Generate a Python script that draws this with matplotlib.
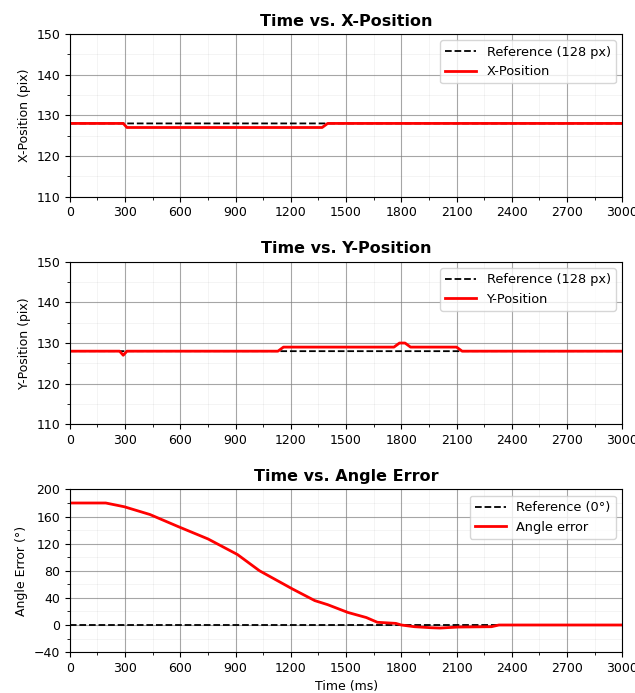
import matplotlib
matplotlib.use("Agg")
import matplotlib.pyplot as plt
from matplotlib.ticker import MultipleLocator, AutoMinorLocator

# breakpoints (time in ms)
x_time = [0, 290, 310, 1370, 1400, 3000]
x_pos = [128, 128, 127, 127, 128, 128]

y_time = [0, 270, 290, 310, 1130, 1160, 1760, 1790, 1820, 1850, 2100, 2130, 3000]
y_pos = [128, 128, 127, 128, 128, 129, 129, 130, 130, 129, 129, 128, 128]

a_time = [0, 195, 295, 435, 590, 750, 910, 1030, 1210, 1330, 1400, 1510, 1610,
          1670, 1770, 1800, 1870, 1960, 2010, 2110, 2290, 2330, 3000]
a_err = [180, 180, 174.5, 163, 145, 127, 104, 80, 53, 36, 30, 18.5, 11,
         4, 2.4, 0, -2.5, -4, -4.5, -3, -2.5, 0, 0]

ref_px = 128
ref_deg = 0

panels = [
    ("Time vs. X-Position", "X-Position (pix)", x_time, x_pos, ref_px,
     "Reference (128 px)", "X-Position", (110, 150), 10),
    ("Time vs. Y-Position", "Y-Position (pix)", y_time, y_pos, ref_px,
     "Reference (128 px)", "Y-Position", (110, 150), 10),
    ("Time vs. Angle Error", "Angle Error (°)", a_time, a_err, ref_deg,
     "Reference (0°)", "Angle error", (-40, 200), 40),
]

fig, axes = plt.subplots(3, 1, figsize=(6.35, 6.93), dpi=100)
fig.subplots_adjust(left=0.11, right=0.98, top=0.951, bottom=0.059, hspace=0.40)

for ax, (title, ylab, t, v, ref, ref_lab, lab, ylim, ystep) in zip(axes, panels):
    ax.plot([0, 3000], [ref, ref], "k--", linewidth=1.3, snap=False, label=ref_lab)
    ax.plot(t, v, color="red", linewidth=2.0, snap=False, label=lab)
    ax.set_title(title, fontsize=11.5, fontweight="bold")
    ax.set_ylabel(ylab, fontsize=9)
    ax.set_xlim(0, 3000)
    ax.set_ylim(*ylim)
    ax.xaxis.set_major_locator(MultipleLocator(300))
    ax.yaxis.set_major_locator(MultipleLocator(ystep))
    ax.xaxis.set_minor_locator(AutoMinorLocator(2))
    ax.yaxis.set_minor_locator(AutoMinorLocator(2))
    ax.tick_params(labelsize=9)
    ax.grid(which="major", color="grey", linewidth=0.8, alpha=0.7)
    ax.grid(which="minor", color="grey", linewidth=0.5, alpha=0.12)
    ax.legend(loc="upper right", fontsize=9.3, handlelength=2.4)

axes[2].set_xlabel("Time (ms)", fontsize=9)

plt.savefig("out.png")
